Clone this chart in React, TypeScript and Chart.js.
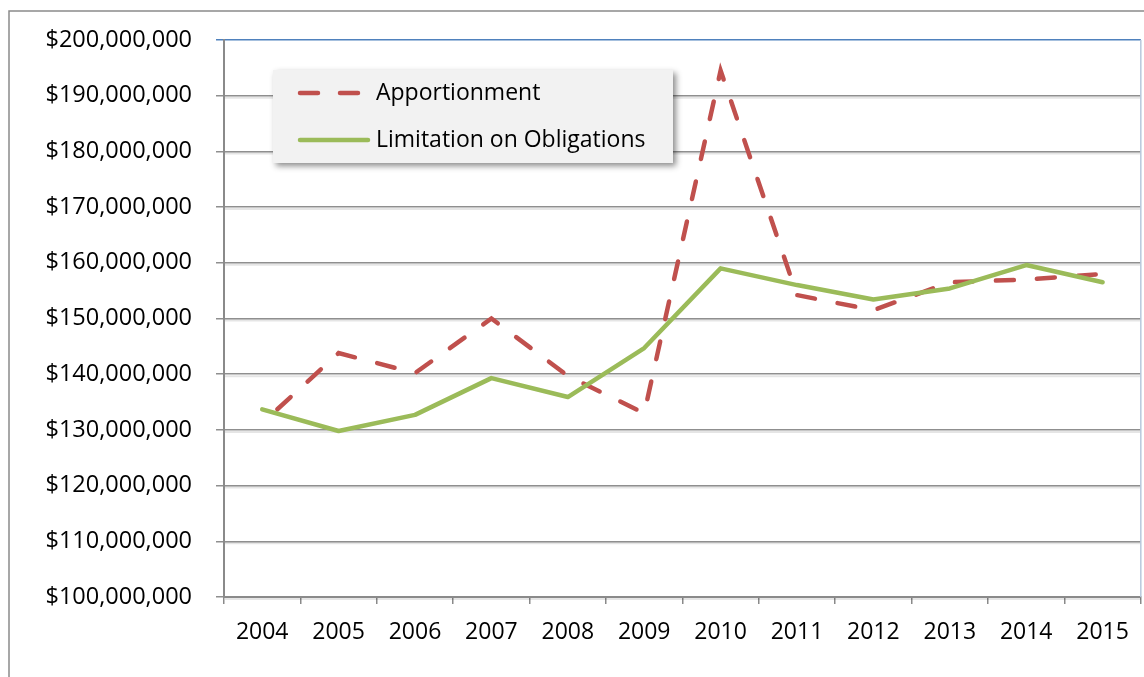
import React, { useEffect, useRef } from "react";
import { Chart, registerables } from "chart.js";

Chart.register(...registerables);

const years = ["2004", "2005", "2006", "2007", "2008", "2009", "2010", "2011", "2012", "2013", "2014", "2015"];
const apportionment = [131200000, 143800000, 140200000, 150000000, 139700000, 133000000, 194500000, 154200000, 151500000, 156500000, 157000000, 158000000];
const limitation = [133700000, 129800000, 132700000, 139300000, 135900000, 144700000, 159000000, 156000000, 153400000, 155400000, 159600000, 156500000];
const seriesNames = ["Apportionment", "Limitation on Obligations"];
const yMin = 100000000;
const yMax = 200000000;
const yStep = 10000000;

const RED = "#c0504d";
const GREEN = "#9bbb59";
const FONT = "'Open Sans', 'Noto Sans', sans-serif";

const outerBorder = {
  id: "outerBorder",
  beforeDraw(chart: any) {
    const ctx = chart.ctx;
    ctx.save();
    ctx.fillStyle = "#ffffff";
    ctx.fillRect(0, 0, chart.width, chart.height);
    ctx.strokeStyle = "#8a8a8a";
    ctx.lineWidth = 1.5;
    ctx.beginPath();
    ctx.moveTo(9, chart.height + 5);
    ctx.lineTo(9, 11);
    ctx.lineTo(chart.width + 5, 11);
    ctx.stroke();
    ctx.restore();
  },
};

const gridShadow = {
  id: "gridShadow",
  beforeDatasetsDraw(chart: any) {
    const ctx = chart.ctx;
    const y = chart.scales.y;
    const area = chart.chartArea;
    ctx.save();
    ctx.strokeStyle = "rgba(0,0,0,0.10)";
    ctx.lineWidth = 2;
    y.ticks.forEach((t: any) => {
      if (t.value === yMax) return;
      const py = y.getPixelForValue(t.value) + 2;
      ctx.beginPath();
      ctx.moveTo(area.left + 1, py);
      ctx.lineTo(area.right, py);
      ctx.stroke();
    });
    ctx.strokeStyle = "#b8c8dc";
    ctx.lineWidth = 1.5;
    ctx.beginPath();
    ctx.moveTo(area.right, area.top);
    ctx.lineTo(area.right, area.bottom);
    ctx.stroke();
    ctx.restore();
  },
};

const boxLegend = {
  id: "boxLegend",
  afterDraw(chart: any) {
    const ctx = chart.ctx;
    const x = 273, y = 70, w = 400, h = 93;
    ctx.save();
    ctx.shadowColor = "rgba(0,0,0,0.45)";
    ctx.shadowBlur = 6;
    ctx.shadowOffsetX = 3;
    ctx.shadowOffsetY = 3;
    ctx.fillStyle = "#f2f2f2";
    ctx.fillRect(x, y, w, h);
    ctx.restore();

    ctx.save();
    ctx.lineCap = "round";
    ctx.lineWidth = 4.5;
    ctx.strokeStyle = RED;
    ctx.setLineDash([18, 22]);
    ctx.beginPath();
    ctx.moveTo(300, 93);
    ctx.lineTo(360, 93);
    ctx.stroke();
    ctx.setLineDash([]);
    ctx.strokeStyle = GREEN;
    ctx.beginPath();
    ctx.moveTo(300, 140);
    ctx.lineTo(368, 140);
    ctx.stroke();

    ctx.fillStyle = "#000000";
    ctx.font = "23px " + FONT;
    ctx.textBaseline = "middle";
    ctx.textAlign = "left";
    ctx.fillText(seriesNames[0], 376, 93);
    ctx.fillText(seriesNames[1], 376, 140);
    ctx.restore();
  },
};

export default function App() {
  const ref = useRef<HTMLCanvasElement | null>(null);

  useEffect(() => {
    if (!ref.current) return;
    const chart = new Chart(ref.current, {
      type: "line",
      data: {
        labels: years,
        datasets: [
          {
            label: seriesNames[0],
            data: apportionment,
            borderColor: RED,
            backgroundColor: RED,
            borderWidth: 4.5,
            borderDash: [18, 23],
            borderDashOffset: 20.4,
            borderCapStyle: "round",
            pointRadius: 0,
            tension: 0,
            order: 1,
          },
          {
            label: seriesNames[1],
            data: limitation,
            borderColor: GREEN,
            backgroundColor: GREEN,
            borderWidth: 4.5,
            borderCapStyle: "round",
            borderJoinStyle: "round",
            pointRadius: 0,
            tension: 0,
            order: 0,
          },
        ],
      },
      options: {
        responsive: false,
        animation: false,
        layout: { padding: { top: 40, right: 2, left: 0, bottom: 0 } },
        plugins: {
          legend: { display: false },
          tooltip: { enabled: false },
        },
        scales: {
          x: {
            type: "category",
            offset: true,
            grid: {
              offset: true,
              drawOnChartArea: false,
              drawTicks: true,
              tickLength: 7,
              color: "#8a8a8a",
              lineWidth: 1.5,
            },
            border: { display: true, color: "#8a8a8a", width: 2 },
            ticks: {
              color: "#000000",
              font: { family: FONT, size: 23 },
              padding: 15,
              maxRotation: 0,
              autoSkip: false,
            },
            afterFit(scale: any) {
              scale.height = 80;
            },
          },
          y: {
            min: yMin,
            max: yMax,
            grid: {
              drawTicks: true,
              tickLength: 8,
              color: (c: any) => (c.tick && c.tick.value === yMax ? "#4f81bd" : "#8f8f8f"),
              lineWidth: 1.5,
            },
            border: { display: true, color: "#8a8a8a", width: 2 },
            ticks: {
              stepSize: yStep,
              color: "#000000",
              font: { family: FONT, size: 23.5 },
              padding: 24,
              callback: (v: any) => "$" + Number(v).toLocaleString("en-US"),
            },
            afterFit(scale: any) {
              scale.width = 224;
            },
          },
        },
      },
      plugins: [outerBorder, gridShadow, boxLegend],
    });
    return () => chart.destroy();
  }, []);

  return (
    <div style={{ position: "absolute", left: 0, top: 0, width: 1144, height: 677 }}>
      <canvas ref={ref} width={1144} height={677} style={{ display: "block" }} />
    </div>
  );
}
